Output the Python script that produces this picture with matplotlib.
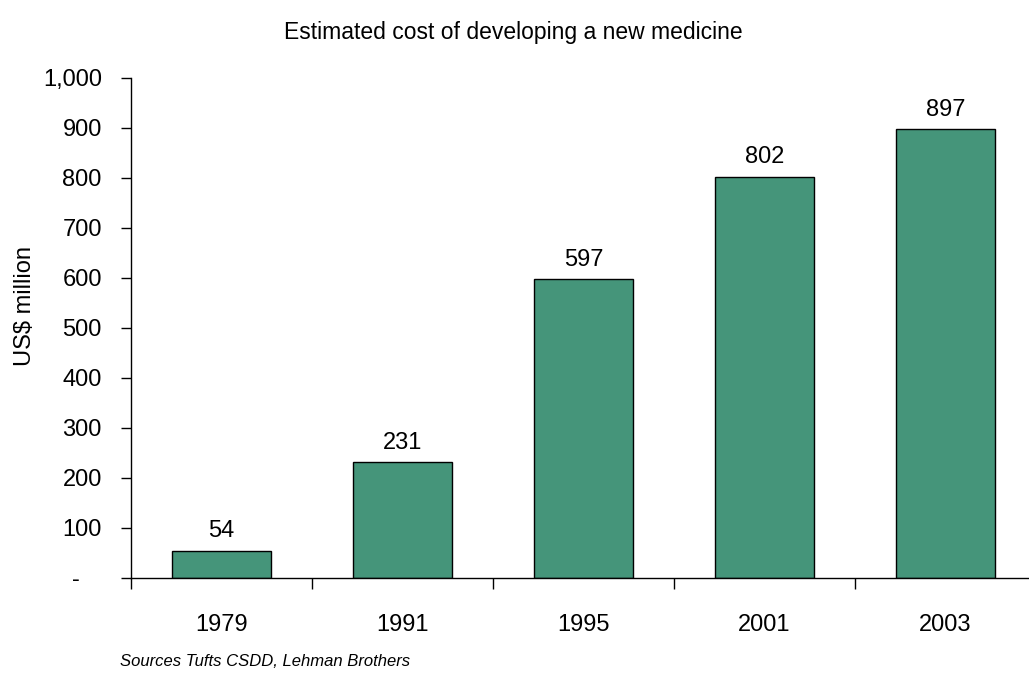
import matplotlib
matplotlib.use("Agg")
import matplotlib.pyplot as plt
from matplotlib.ticker import FuncFormatter, FixedLocator
from matplotlib.transforms import ScaledTranslation

plt.rcParams['font.family'] = ['Liberation Sans', 'DejaVu Sans']

# Coût estimé de développement d'un nouveau médicament (US$ millions)
years = ['1979', '1991', '1995', '2001', '2003']
costs = [54, 231, 597, 802, 897]

bar_color = '#45957A'
fs = 17

fig = plt.figure(figsize=(10.29, 6.78), dpi=100)
ax = fig.add_axes([0.1273, 0.1475, 0.8795, 0.7375])

x = list(range(len(years)))
ax.bar(x, costs, width=0.55, color=bar_color, edgecolor='black', linewidth=1.0, zorder=2)

for xi, v in zip(x, costs):
    ax.text(xi, v + 17, f'{v}', ha='center', va='bottom', fontsize=fs)

ax.set_xlim(-0.5, len(years) - 0.5)
ax.set_ylim(0, 1000)

# ticks de l'axe x entre les catégories, étiquettes centrées
ax.xaxis.set_major_locator(FixedLocator([i - 0.5 for i in range(len(years) + 1)]))
ax.xaxis.set_major_formatter(FuncFormatter(lambda v, p: ''))
ax.set_xticks(x, minor=True)
ax.set_xticklabels(years, minor=True)
ax.tick_params(axis='x', which='major', length=8, width=1, direction='out')
ax.tick_params(axis='x', which='minor', length=0, pad=26, labelsize=fs)

ax.set_yticks(range(0, 1001, 100))
ax.yaxis.set_major_formatter(FuncFormatter(lambda v, p: '-' if v == 0 else f'{int(v):,}'))
ax.tick_params(axis='y', length=7, width=1, direction='out', pad=14, labelsize=fs)

# le tiret du zéro est décalé vers la gauche (format comptable)
zero_lbl = ax.yaxis.get_major_ticks()[0].label1
zero_lbl.set_transform(zero_lbl.get_transform() + ScaledTranslation(-0.22, 0, fig.dpi_scale_trans))

for side in ['top', 'right']:
    ax.spines[side].set_visible(False)
for side in ['left', 'bottom']:
    ax.spines[side].set_linewidth(1)

fig.text(25 / 1029, 1 - 306 / 678, 'US$ million', rotation=90, ha='center', va='center', fontsize=fs)

fig.text(0.499, 0.952, 'Estimated cost of developing a new medicine', ha='center', va='center', fontsize=16.5)
fig.text(0.117, 0.025, 'Sources Tufts CSDD, Lehman Brothers', ha='left', va='center',
         fontsize=12, style='italic')

plt.savefig('out.png', dpi=100)
